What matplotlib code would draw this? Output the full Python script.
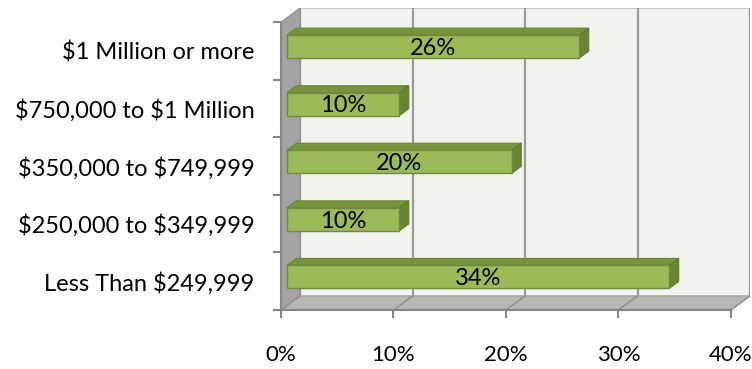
import matplotlib.pyplot as plt
from matplotlib.patches import Polygon, Rectangle
from matplotlib.ticker import FixedLocator, FuncFormatter

categories = ["Less Than $249,999", "$250,000 to $349,999", "$350,000 to $749,999",
              "$750,000 to $1 Million", "$1 Million or more"]
values = [34, 10, 20, 10, 26]
xticks = [0, 10, 20, 30, 40]

plt.rcParams['font.family'] = ['Lato', 'DejaVu Sans']
plt.rcParams['text.parse_math'] = False
fs = 17

# 3d depth offsets in data units
dx, dy = 1.7, 0.245
f_front, f_depth = 0.3, 0.5
bh = 0.4

fig = plt.figure(figsize=(7.52, 3.69), dpi=100)
ax = fig.add_axes([281 / 752, 59 / 369, (750 - 281) / 752, (310 - 8) / 369])
ax.set_xlim(0, 40 + dx)
ax.set_ylim(-0.5, 4.5 + dy)
ax.set_facecolor("none")

# walls
ax.add_patch(Rectangle((dx, -0.5 + dy), 40, 5, fc="#f1f4ec", ec="#c8c8c8", lw=0.8, zorder=1))
ax.add_patch(Polygon([(0, -0.5), (dx, -0.5 + dy), (dx, 4.5 + dy), (0, 4.5)],
                     closed=True, fc="#a3a3a3", ec="#8c8c8c", lw=0.8, zorder=2))
ax.add_patch(Polygon([(0, -0.5), (40, -0.5), (40 + dx, -0.5 + dy), (dx, -0.5 + dy)],
                     closed=True, fc="#b6b8b1", ec="#9a9a9a", lw=0.8, zorder=2))
for t in xticks:
    ax.plot([t + dx, t + dx], [-0.5 + dy, 4.5 + dy], color="#9b9b9b", lw=1.6, zorder=1.5)
    ax.plot([t, t + dx], [-0.5, -0.5 + dy], color="#8f8f8f", lw=1.0, zorder=2.5)

# bars
for i, v in enumerate(values):
    x0 = dx * f_front
    yc = i + dy * f_front
    ddx, ddy = dx * f_depth, dy * f_depth
    top = yc + bh / 2
    bot = yc - bh / 2
    ax.add_patch(Polygon([(x0, top), (x0 + v, top), (x0 + v + ddx, top + ddy), (x0 + ddx, top + ddy)],
                         closed=True, fc="#77933c", ec="#6b8535", lw=0.8, zorder=3))
    ax.add_patch(Polygon([(x0 + v, bot), (x0 + v + ddx, bot + ddy), (x0 + v + ddx, top + ddy), (x0 + v, top)],
                         closed=True, fc="#6a8433", ec="#617a2f", lw=0.8, zorder=3))
    ax.add_patch(Rectangle((x0, bot), v, bh, fc="#9bbb59", ec="#71893f", lw=1.0, zorder=4))
    ax.text(x0 + v / 2, yc - 0.03, f"{v}%", ha="center", va="center", fontsize=fs, color="black", zorder=5)

# axes
for s in ["top", "right"]:
    ax.spines[s].set_visible(False)
ax.spines["left"].set_bounds(-0.5, 4.5)
ax.spines["bottom"].set_bounds(0, 40)
ax.spines["left"].set_color("#868686")
ax.spines["bottom"].set_color("#868686")
ax.spines["left"].set_linewidth(1.5)
ax.spines["bottom"].set_linewidth(1.5)
ax.spines["left"].set_zorder(6)
ax.spines["bottom"].set_zorder(6)

ax.xaxis.set_major_locator(FixedLocator(xticks))
ax.xaxis.set_major_formatter(FuncFormatter(lambda x, p: f"{int(x)}%"))
ax.tick_params(axis="x", length=6, width=1.5, color="#868686", pad=19, labelsize=16)

ax.yaxis.set_major_locator(FixedLocator([-0.5, 0.5, 1.5, 2.5, 3.5, 4.5]))
ax.yaxis.set_major_formatter(FuncFormatter(lambda y, p: ""))
ax.yaxis.set_minor_locator(FixedLocator(range(len(categories))))
ax.yaxis.set_minor_formatter(FuncFormatter(lambda y, p: categories[int(round(y))]))
ax.tick_params(axis="y", which="major", length=6, width=1.5, color="#868686")
ax.tick_params(axis="y", which="minor", length=0, pad=19, labelsize=fs)

fig.savefig("out.png", dpi=100)
